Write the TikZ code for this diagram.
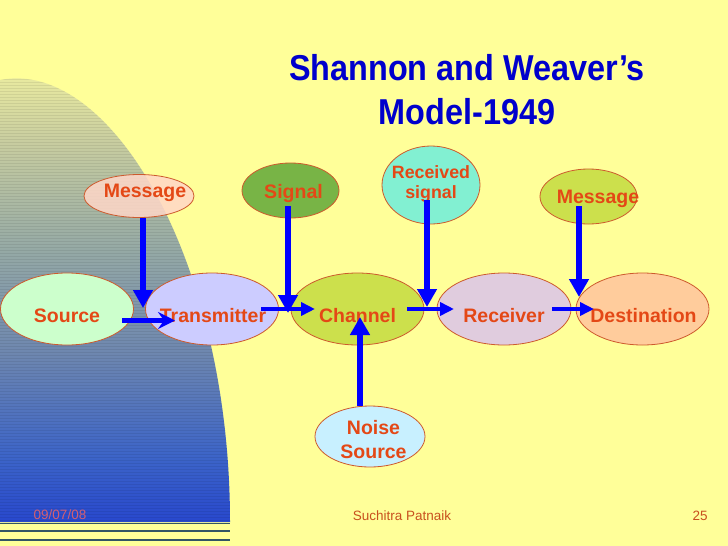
\documentclass[tikz,border=0pt]{standalone}
\usepackage{fontspec}
\setmainfont{Liberation Sans}
\newfontfamily\titlefont[FakeStretch=0.9]{Liberation Sans}
\usetikzlibrary{arrows.meta,calc,shapes.geometric}

\definecolor{slideyellow}{RGB}{255,255,153}
\definecolor{fadeA}{RGB}{40,72,205}
\definecolor{fadeB}{RGB}{60,100,200}
\definecolor{fadeC}{RGB}{110,135,175}
\definecolor{fadeD}{RGB}{150,170,165}
\definecolor{fadeE}{RGB}{200,205,160}
\definecolor{fadeF}{RGB}{242,242,160}
\pgfdeclareverticalshading{slidefade}{100bp}{color(0bp)=(fadeA); color(25bp)=(fadeA);
  color(32bp)=(fadeB); color(43.3bp)=(fadeC); color(54.6bp)=(fadeD); color(66bp)=(fadeE);
  color(75bp)=(fadeF); color(100bp)=(fadeF)}
\definecolor{stripe}{RGB}{50,85,100}
\definecolor{rim}{RGB}{205,90,45}
\definecolor{labelred}{RGB}{228,72,22}
\definecolor{titleblue}{RGB}{0,0,204}
\definecolor{arrowblue}{RGB}{0,0,255}
\definecolor{footred}{RGB}{200,80,30}
\definecolor{datered}{RGB}{210,95,115}
\definecolor{srcfill}{RGB}{204,255,204}
\definecolor{transfill}{RGB}{204,204,255}
\definecolor{limefill}{RGB}{204,224,76}
\definecolor{recvfill}{RGB}{224,204,222}
\definecolor{destfill}{RGB}{255,204,156}
\definecolor{msgfill}{RGB}{255,215,200}
\definecolor{sigfill}{RGB}{120,180,70}
\definecolor{rsigfill}{RGB}{130,240,210}
\definecolor{noisefill}{RGB}{200,240,255}

\begin{document}
\begin{tikzpicture}[x=1pt,y=-1pt]
\tikzstyle{bubble} = [ellipse, draw=rim, line width=0.8pt, inner sep=0pt]
\tikzstyle{lbl} = [text=labelred, font=\bfseries\fontsize{19.5}{24}\selectfont, align=center]
\tikzstyle{varrow} = [draw=arrowblue, line width=6.5pt, -{Triangle[width=19pt,length=18pt]}]
\tikzstyle{harrow} = [draw=arrowblue, line width=4pt, -{Triangle[width=13pt,length=14pt]}]
\tikzstyle{sarrow} = [draw=arrowblue, line width=5.5pt, -{Stealth[width=17pt,length=17pt,inset=6pt]}]
\tikzstyle{foot} = [text=footred, font=\fontsize{13.5}{16}\selectfont]
% slide background
\useasboundingbox (0,0) rectangle (728,546);
\fill[slideyellow] (0,0) rectangle (728,546);
\shade[shading=slidefade]
  (0,80) .. controls (110,58) and (230,260) .. (230,522) -- (0,522) -- cycle;
\begin{scope}
\clip (0,80) .. controls (110,58) and (230,260) .. (230,522) -- (0,522) -- cycle;
\foreach \yy in {70,73,...,522} \draw[black, opacity=.07, line width=.9pt] (0,\yy) -- (230,\yy);
\end{scope}
\foreach \yy in {523.5,531,540} \draw[stripe, line width=1.8pt] (0,\yy) -- (230,\yy);

% main row
\node[bubble, fill=srcfill, minimum width=133pt, minimum height=72pt,
  label={[lbl,yshift=-6.5pt]center:Source}] (src) at (67,309) {};
\node[bubble, fill=transfill, minimum width=133pt, minimum height=72pt,
  label={[lbl,xshift=1pt,yshift=-6.5pt]center:Transmitter}] (trans) at (212,309) {};
\node[bubble, fill=limefill, minimum width=133pt, minimum height=72pt,
  label={[lbl,yshift=-6.5pt]center:Channel}] (chan) at (357.5,309) {};
\node[bubble, fill=recvfill, minimum width=134pt, minimum height=72pt,
  label={[lbl,yshift=-7pt]center:Receiver}] (recv) at (504,309) {};
\node[bubble, fill=destfill, minimum width=133pt, minimum height=72pt,
  label={[lbl,xshift=1pt,yshift=-7pt]center:Destination}] (dest) at (642.5,309) {};

% upper and lower bubbles
\node[bubble, fill=msgfill, fill opacity=.85, text opacity=1, minimum width=110pt, minimum height=43pt,
  label={[lbl,xshift=6pt,yshift=3pt]center:Message}] (msgA) at (139,196) {};
\node[bubble, fill=sigfill, minimum width=97pt, minimum height=55pt,
  label={[lbl,xshift=3pt,yshift=-3pt]center:Signal}] (signal) at (290.5,190.5) {};
\node[bubble, fill=rsigfill, minimum width=98pt, minimum height=78pt,
  label={[lbl,font=\bfseries\fontsize{17.8}{20}\selectfont,yshift=1pt]center:Received\\signal}] (rsig) at (431,185) {};
\node[bubble, fill=limefill, minimum width=97pt, minimum height=55pt,
  label={[lbl,xshift=9.5pt,yshift=-2.5pt]center:Message}] (msgB) at (588.5,196.5) {};
\node[bubble, fill=noisefill, minimum width=110pt, minimum height=61pt,
  label={[lbl,xshift=3.5pt,yshift=-3pt]center:Noise\\Source}] (noise) at (370,436.5) {};

% arrows
\draw[varrow] ($(msgA.south)+(4,0)$) -- ($(msgA.south |- trans.center)+(4,-1)$);
\draw[sarrow] ($(src.center)+(55,11.5)$) -- ($(trans.center)+(-37,11.5)$);
\draw[varrow] ($(signal.center)+(-2.5,15.5)$) -- ($(signal.center |- chan.center)+(-2.5,4)$);
\draw[harrow] ($(trans.center)+(49,0)$) -- ($(chan.center)+(-42.5,0)$);
\draw[varrow] ($(rsig.center)+(-4,15)$) -- ($(rsig.center |- chan.center)+(-4,-2)$);
\draw[harrow] ($(chan.center)+(49.5,0)$) -- ($(recv.center)+(-50,0)$);
\draw[varrow] ($(msgB.center)+(-9.5,9.5)$) -- ($(msgB.center |- dest.center)+(-9.5,-12)$);
\draw[harrow] ($(recv.center)+(48,0)$) -- ($(dest.center)+(-48.5,0)$);
\draw[varrow] ($(noise.north)+(-10,0)$) -- ($(noise.north |- chan.center)+(-10,8)$);

% title and footer
\node[text=titleblue, font=\titlefont\bfseries\fontsize{36}{44}\selectfont, align=center]
  (title) at (467,90) {Shannon and Weaver’s\\Model-1949};
\node[foot, text=datered] (date) at (60,515) {09/07/08};
\node[foot] (author) at (402,516) {Suchitra Patnaik};
\node[foot] (page) at (700,516) {25};
\end{tikzpicture}
\end{document}
